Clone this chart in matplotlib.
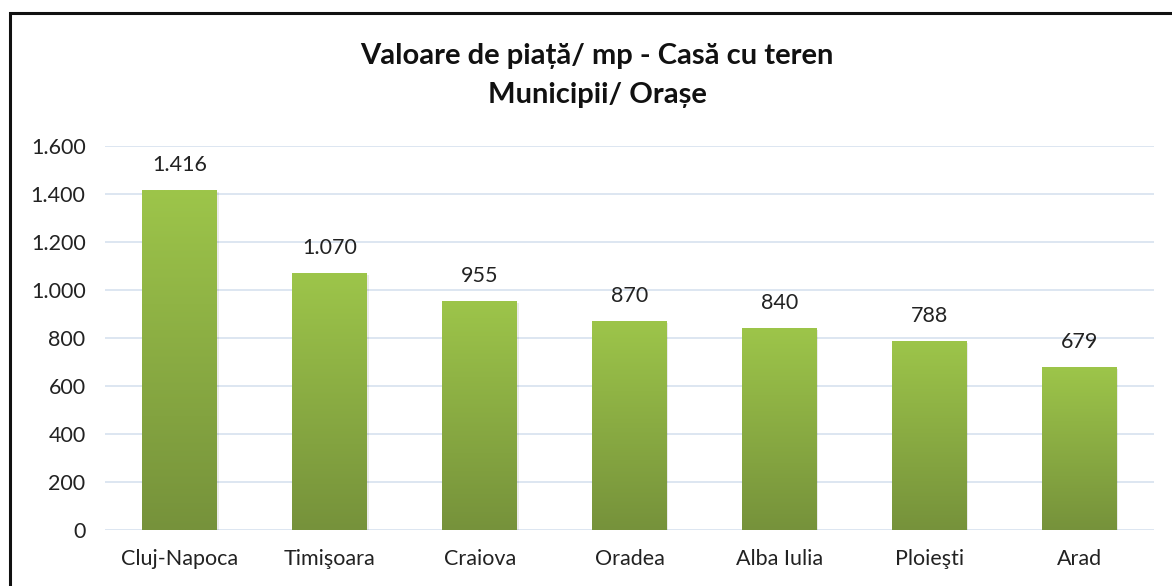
import numpy as np
import matplotlib.pyplot as plt
from matplotlib.patches import Rectangle
from matplotlib.colors import LinearSegmentedColormap

orase = ['Cluj-Napoca', 'Timişoara', 'Craiova', 'Oradea', 'Alba Iulia', 'Ploieşti', 'Arad']
valori = [1416, 1070, 955, 870, 840, 788, 679]
y_ticks = [0, 200, 400, 600, 800, 1000, 1200, 1400, 1600]


def fmt(v):
    return f"{v:,.0f}".replace(",", ".")


plt.rcParams['font.family'] = ['Lato', 'DejaVu Sans']

fig = plt.figure(figsize=(11.72, 5.86), dpi=100)
ax = fig.add_axes([105 / 1172, 1 - 530 / 586, 1049 / 1172, 384 / 586])

# frame around the chart (cropped at right and bottom)
fig.patches.append(Rectangle((10 / 1172, -0.05), 1.1, 1 - 13 / 586 + 0.05,
                             transform=fig.transFigure, fill=False,
                             edgecolor='#111111', linewidth=2.2, zorder=10))

x = np.arange(len(orase))
bars = ax.bar(x, valori, width=0.5, color='none', edgecolor='none', zorder=3)

# vertical gradient for each bar
cmap = LinearSegmentedColormap.from_list('verde', ['#76923b', '#9dc54a'])
grad = np.linspace(0, 1, 256).reshape(-1, 1)
for b in bars:
    x0, w, h = b.get_x(), b.get_width(), b.get_height()
    im = ax.imshow(grad, extent=(x0, x0 + w, 0, h), origin='lower', cmap=cmap,
                   aspect='auto', zorder=3)
    im.set_clip_path(b)
    # slight shadow
    ax.add_patch(Rectangle((x0 + 0.01, -8), w, h, facecolor='#000000', alpha=0.08,
                           edgecolor='none', zorder=2))

for xi, v in zip(x, valori):
    ax.annotate(fmt(v), (xi, v), xytext=(0, 11), textcoords='offset points',
                ha='center', va='bottom', fontsize=15.5, color='#222222')

ax.set_xlim(-0.5, len(orase) - 0.5)
ax.set_ylim(0, 1600)
ax.set_yticks(y_ticks)
ax.set_yticklabels([fmt(t) for t in y_ticks])
ax.set_xticks(x)
ax.set_xticklabels(orase)
ax.tick_params(axis='both', length=0, labelsize=15.5, colors='#222222')
ax.tick_params(axis='y', pad=14)
ax.tick_params(axis='x', pad=14)
ax.grid(axis='y', color='#d7e1ef', linewidth=1.2, zorder=0)
ax.set_axisbelow(True)
for s in ax.spines.values():
    s.set_visible(False)

fig.text(597 / 1172, 1 - 56 / 586, 'Valoare de piață/ mp - Casă cu teren',
         ha='center', va='center', fontsize=21, fontweight='bold', color='#111111')
fig.text(597 / 1172, 1 - 95 / 586, 'Municipii/ Orașe',
         ha='center', va='center', fontsize=21, fontweight='bold', color='#111111')

fig.savefig('out.png', dpi=100)
